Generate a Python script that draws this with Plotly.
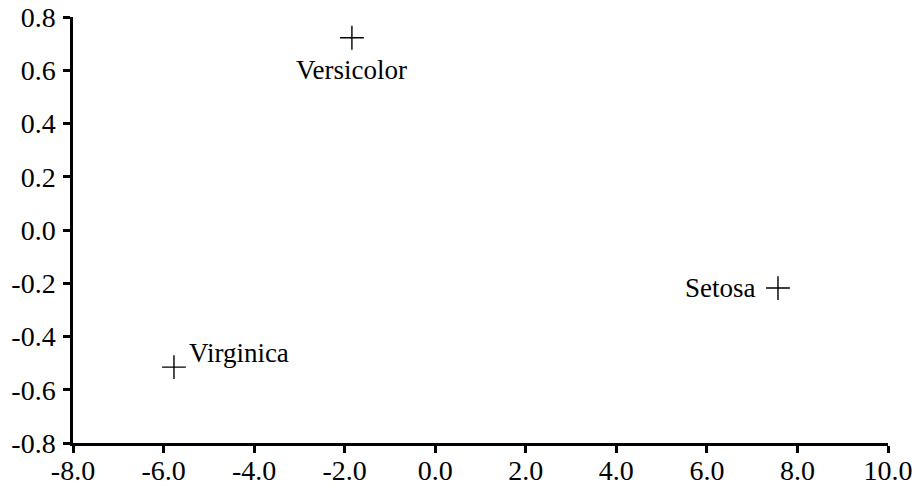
import plotly.graph_objects as go

species = ["Versicolor", "Virginica", "Setosa"]
x_vals = [-1.84, -5.77, 7.57]
y_vals = [0.722, -0.515, -0.218]

x_ticks = [-8, -6, -4, -2, 0, 2, 4, 6, 8, 10]
x_tick_text = ["-8.0", "-6.0", "-4.0", "-2.0", "0.0", "2.0", "4.0", "6.0", "8.0", "10.0"]
y_ticks = [-0.8, -0.6, -0.4, -0.2, 0.0, 0.2, 0.4, 0.6, 0.8]
y_tick_text = ["-0.8", "-0.6", "-0.4", "-0.2", "0.0", "0.2", "0.4", "0.6", "0.8"]

FONT = "Liberation Serif, serif"

# label placement relative to each point (style only)
label_style = [
    dict(xanchor="center", yanchor="middle", xshift=0, yshift=-32),
    dict(xanchor="left", yanchor="middle", xshift=13, yshift=14),
    dict(xanchor="right", yanchor="middle", xshift=-20, yshift=0),
]

fig = go.Figure(go.Scatter(
    x=x_vals, y=y_vals, mode="markers",
    marker=dict(symbol="cross-thin-open", size=17, line=dict(width=1.4, color="black"), color="black"),
    showlegend=False, cliponaxis=False,
))

for name, xv, yv, st in zip(species, x_vals, y_vals, label_style):
    fig.add_annotation(x=xv, y=yv, text=name, showarrow=False,
                       font=dict(family=FONT, size=27, color="black"), **st)

axis_common = dict(
    showgrid=False, zeroline=False, showline=True, linecolor="black", linewidth=2.5,
    ticks="outside", ticklen=7, tickwidth=2.5, tickcolor="black",
    tickfont=dict(family=FONT, size=28, color="black"), automargin=False,
)

fig.update_xaxes(range=[-8, 10], tickvals=x_ticks, ticktext=x_tick_text, ticklabelstandoff=-6, **axis_common)
fig.update_yaxes(range=[-0.8, 0.8], tickvals=y_ticks, ticktext=y_tick_text, ticklabelstandoff=2, **axis_common)

fig.update_layout(
    width=916, height=487,
    margin=dict(l=73, r=28, t=17, b=44),
    plot_bgcolor="white", paper_bgcolor="white",
)

fig.write_html("out.html")
